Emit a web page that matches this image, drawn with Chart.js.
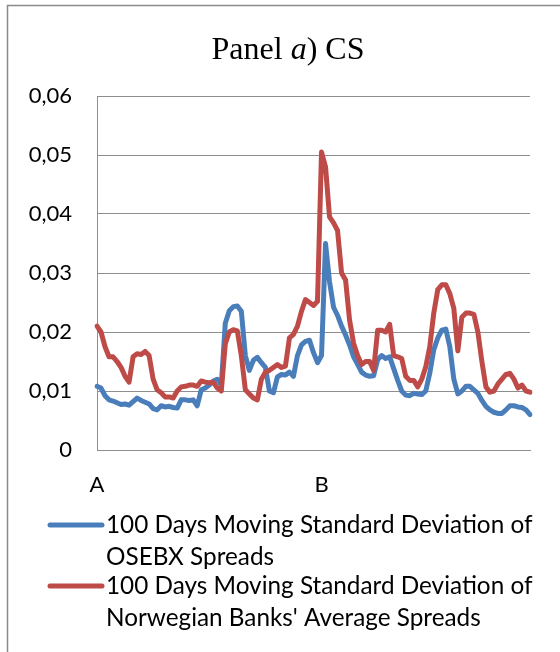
<!DOCTYPE html>
<html>
<head>
<meta charset="utf-8">
<script src="https://cdn.jsdelivr.net/npm/chart.js@4.4.1/dist/chart.umd.min.js"></script>
<style>
  html, body { margin: 0; padding: 0; background: #ffffff; }
  #wrap { position: relative; width: 560px; height: 652px; }
</style>
</head>
<body>
<div id="wrap"><canvas id="c" width="560" height="652"></canvas></div>
<script>
// ---- data ----
const osebx = [
  0.0108, 0.0105, 0.0092, 0.0085, 0.0083, 0.0080, 0.0077, 0.0078, 0.0076, 0.0082,
  0.0088, 0.0084, 0.0081, 0.0078, 0.0070, 0.0068, 0.0075, 0.0073, 0.0074, 0.0072,
  0.0071, 0.0085, 0.0085, 0.0084, 0.0085, 0.0075, 0.0102, 0.0105, 0.0110, 0.0117,
  0.0120, 0.0110, 0.0215, 0.0236, 0.0243, 0.0244, 0.0235, 0.0160, 0.0135, 0.0152,
  0.0157, 0.0148, 0.0140, 0.0100, 0.0097, 0.0124, 0.0128, 0.0127, 0.0132, 0.0125,
  0.0160, 0.0178, 0.0184, 0.0186, 0.0165, 0.0148, 0.0160, 0.0350, 0.0285, 0.0242,
  0.0228, 0.0210, 0.0195, 0.0178, 0.0158, 0.0145, 0.0132, 0.0127, 0.0125, 0.0126,
  0.0153, 0.0160, 0.0155, 0.0158, 0.0138, 0.0118, 0.0100, 0.0093, 0.0092, 0.0096,
  0.0095, 0.0094, 0.0100, 0.0130, 0.0170, 0.0190, 0.0203, 0.0205, 0.0175, 0.0120,
  0.0095, 0.0100, 0.0108, 0.0108, 0.0102, 0.0096, 0.0084, 0.0074, 0.0068, 0.0064,
  0.0062, 0.0062, 0.0068, 0.0075, 0.0075, 0.0073, 0.0072, 0.0068, 0.0060
];
const banks = [
  0.0210, 0.0200, 0.0175, 0.0158, 0.0158, 0.0150, 0.0140, 0.0125, 0.0115, 0.0158,
  0.0163, 0.0162, 0.0167, 0.0160, 0.0120, 0.0102, 0.0097, 0.0090, 0.0090, 0.0088,
  0.0100, 0.0107, 0.0108, 0.0110, 0.0110, 0.0108, 0.0117, 0.0115, 0.0114, 0.0115,
  0.0105, 0.0100, 0.0180, 0.0200, 0.0204, 0.0202, 0.0160, 0.0102, 0.0095, 0.0088,
  0.0085, 0.0120, 0.0132, 0.0135, 0.0140, 0.0145, 0.0140, 0.0142, 0.0190, 0.0196,
  0.0210, 0.0235, 0.0255, 0.0250, 0.0245, 0.0252, 0.0505, 0.0480, 0.0395, 0.0385,
  0.0372, 0.0300, 0.0288, 0.0220, 0.0181, 0.0160, 0.0145, 0.0150, 0.0150, 0.0135,
  0.0203, 0.0203, 0.0200, 0.0213, 0.0160, 0.0158, 0.0155, 0.0125, 0.0118, 0.0118,
  0.0107, 0.0120, 0.0141, 0.0175, 0.0232, 0.0272, 0.0280, 0.0280, 0.0265, 0.0240,
  0.0168, 0.0225, 0.0232, 0.0232, 0.0230, 0.0200, 0.0150, 0.0107, 0.0098, 0.0100,
  0.0112, 0.0120, 0.0128, 0.0130, 0.0120, 0.0105, 0.0110, 0.0100, 0.0098
];
const categories = osebx.map((_, i) => i);          // observation index
const xTickLabels = { 0: 'A', 56: 'B' };              // only two labelled points
const yTicks = [0, 0.01, 0.02, 0.03, 0.04, 0.05, 0.06];
const seriesNames = [
  '100 Days Moving Standard Deviation of OSEBX Spreads',
  "100 Days Moving Standard Deviation of Norwegian Banks' Average Spreads"
];
const legendLines = [
  ['100 Days Moving Standard Deviation of', 'OSEBX Spreads'],
  ['100 Days Moving Standard Deviation of', "Norwegian Banks' Average Spreads"]
];
const titleParts = [['Panel ', false], ['a', true], [') CS', false]];

const BLUE = '#4a7ebb';
const RED = '#be4b48';
const GRID = '#8e8e8e';
const SANS = 'Lato, "Open Sans", sans-serif';

const decor = {
  id: 'decor',
  beforeDraw(chart) {
    const ctx = chart.ctx;
    ctx.save();
    ctx.strokeStyle = '#8a8a8a';
    ctx.lineWidth = 1.5;
    ctx.beginPath();
    ctx.moveTo(7.5, 652);
    ctx.lineTo(7.5, 5.5);
    ctx.lineTo(560, 5.5);
    ctx.stroke();
    ctx.restore();
  },
  afterDraw(chart) {
    const ctx = chart.ctx;
    ctx.save();
    // title with italic part
    const fontFor = it => (it ? 'italic ' : '') + '32px "Liberation Serif", "Times New Roman", serif';
    let total = 0;
    titleParts.forEach(([t, it]) => { ctx.font = fontFor(it); total += ctx.measureText(t).width; });
    let x = 288 - total / 2;
    ctx.fillStyle = '#000';
    ctx.textBaseline = 'alphabetic';
    ctx.textAlign = 'left';
    titleParts.forEach(([t, it]) => { ctx.font = fontFor(it); ctx.fillText(t, x, 59); x += ctx.measureText(t).width; });

    // legend
    const colors = chart.data.datasets.map(d => d.borderColor);
    const baselines = [[533, 565], [594, 626]];
    const sampleY = [525, 586];
    ctx.font = '24.3px ' + SANS;
    legendLines.forEach((lines, k) => {
      ctx.strokeStyle = colors[k];
      ctx.lineWidth = 5;
      ctx.lineCap = 'round';
      ctx.beginPath();
      ctx.moveTo(50, sampleY[k]);
      ctx.lineTo(102, sampleY[k]);
      ctx.stroke();
      lines.forEach((ln, j) => ctx.fillText(ln, 106, baselines[k][j]));
    });
    ctx.restore();
  }
};

new Chart(document.getElementById('c'), {
  type: 'line',
  data: {
    labels: categories,
    datasets: [
      { label: seriesNames[0], data: osebx, borderColor: BLUE, backgroundColor: BLUE, borderWidth: 5,
        pointRadius: 0, tension: 0, borderJoinStyle: 'round', borderCapStyle: 'round', order: 2 },
      { label: seriesNames[1], data: banks, borderColor: RED, backgroundColor: RED, borderWidth: 5,
        pointRadius: 0, tension: 0, borderJoinStyle: 'round', borderCapStyle: 'round', order: 1 }
    ]
  },
  options: {
    responsive: false,
    animation: false,
    devicePixelRatio: 1,
    layout: { padding: { top: 96, right: 30, bottom: 142, left: 0 } },
    plugins: { legend: { display: false }, title: { display: false }, tooltip: { enabled: false } },
    scales: {
      x: {
        type: 'category',
        offset: false,
        grid: { display: false, drawTicks: false },
        border: { display: true, color: GRID, width: 1 },
        ticks: {
          autoSkip: false, maxRotation: 0, minRotation: 0, padding: 22,
          color: '#000', font: { family: SANS, size: 22 },
          callback: (v, i) => xTickLabels[i] || ''
        },
        afterFit: s => { s.height = 60; }
      },
      y: {
        min: 0, max: 0.06,
        afterBuildTicks: s => { s.ticks = yTicks.map(v => ({ value: v })); },
        grid: { color: GRID, lineWidth: 1, drawTicks: false },
        border: { display: true, color: GRID, width: 1 },
        ticks: {
          padding: 25, color: '#000', font: { family: SANS, size: 22 },
          callback: v => (v === 0 ? '0' : v.toFixed(2).replace('.', ','))
        },
        afterFit: s => { s.width = 97; }
      }
    }
  },
  plugins: [decor]
});
</script>
</body>
</html>
